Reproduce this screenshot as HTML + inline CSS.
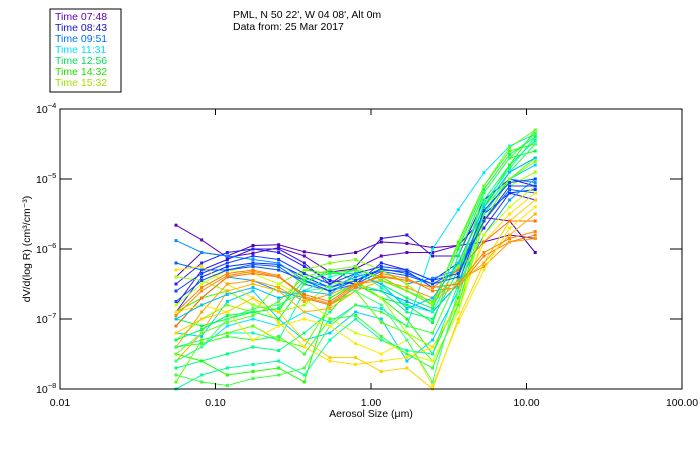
<!DOCTYPE html>
<html><head><meta charset="utf-8"><style>
body{margin:0;background:#fff;}
svg{display:block;font-family:"Liberation Sans",sans-serif;}
</style></head><body>
<svg id="chart" width="700" height="450">
<rect x="50" y="9" width="71" height="83" fill="#fff" stroke="#000"/>
<g font-size="10.5">
<text x="55" y="20" fill="#6000c0">Time 07:48</text>
<text x="55" y="31" fill="#1010e0">Time 08:43</text>
<text x="55" y="42" fill="#0070ff">Time 09:51</text>
<text x="55" y="53" fill="#00e0ff">Time 11:31</text>
<text x="55" y="64" fill="#00e060">Time 12:56</text>
<text x="55" y="75" fill="#20e000">Time 14:32</text>
<text x="55" y="86" fill="#a0e000">Time 15:32</text>
</g>
<text x="233" y="18" font-size="10.5">PML, N 50 22', W 04 08', Alt 0m</text>
<text x="233" y="30" font-size="10.5">Data from: 25 Mar 2017</text>
<g id="series"></g>
<rect x="60" y="109" width="622" height="280" fill="none" stroke="#000"/>
<g id="axes"></g>
<text x="371" y="417" font-size="10.5" text-anchor="middle">Aerosol Size (μm)</text>
<text transform="translate(30,249) rotate(-90)" font-size="10.5" text-anchor="middle">dV/d(log R) (cm³/cm⁻³)</text>
</svg>
<script>
const xTicks=[0.01,0.1,1,10,100];
const xTickLabels=["0.01","0.10","1.00","10.00","100.00"];
const yTickExp=[-4,-5,-6,-7,-8];
const sizeBinsLog=[-1.254,-1.089,-0.924,-0.759,-0.594,-0.429,-0.264,-0.099,0.066,0.231,0.396,0.561,0.726,0.891,1.056];
const seriesColors=["#6000c0","#5000b0","#3010e0","#2020ff","#0030ff","#0060ff","#0090ff","#00a0ff","#00e8ff","#00d0ff","#00ffc0","#00ff80","#00ff40","#20ff00","#40ff00","#60ff00","#80ff00","#a0ff00","#d0ff00","#ffe000","#ffd000","#ff8000","#ff7000","#ffa000","#ffb000","#30ff30","#00ffa0","#40ff40","#ffe800","#40ff80","#1040ff","#0050f0","#00ff60","#60ff20","#00c0ff","#ff8800"];
const s1=[-5.66,-5.87,-6.12,-6.06,-5.98,-6.1,-6.33,-6.28,-6.1,-6.05,-6.05,-5.95,-5.9,-5.8,-5.85];
const s2=[-6.4,-6.05,-6.1,-5.95,-5.94,-6.04,-6.1,-6.05,-5.9,-5.92,-5.98,-5.95,-5.55,-5.6,-6.05];
const s3=[-6.8,-6.3,-6.15,-6.0,-6.0,-6.2,-6.5,-6.25,-5.85,-5.8,-6.1,-6.1,-5.3,-5.0,-5.1];
const s4=[-6.5,-6.2,-6.05,-6.0,-6.05,-6.25,-6.45,-6.5,-6.2,-6.3,-6.45,-6.2,-5.7,-5.2,-5.3];
const s5=[-6.9,-6.4,-6.25,-6.2,-6.22,-6.4,-6.55,-6.45,-6.3,-6.32,-6.55,-6.5,-5.5,-5.2,-5.15];
const s6=[-6.2,-6.3,-6.3,-6.22,-6.25,-6.5,-6.6,-6.5,-6.32,-6.38,-6.5,-6.3,-5.6,-5.15,-5.2];
const s7=[-5.88,-6.05,-6.1,-6.15,-6.2,-6.45,-6.55,-6.4,-6.3,-6.5,-6.42,-6.3,-5.5,-5.0,-5.05];
const s8=[-7.1,-6.7,-6.4,-6.45,-6.6,-6.7,-6.8,-6.55,-6.6,-6.75,-6.9,-6.5,-5.8,-5.3,-5.0];
const s9=[-7.6,-7.4,-7.1,-7.0,-7.1,-6.9,-7.05,-6.8,-6.85,-7.1,-6.0,-5.44,-4.91,-4.53,-4.36];
const s10=[-7.2,-7.25,-6.75,-6.6,-7.0,-7.3,-7.2,-6.9,-7.0,-7.6,-7.3,-6.6,-5.5,-5.0,-4.8];
const s11=[-7.4,-7.3,-7.2,-7.2,-7.3,-6.6,-6.4,-6.3,-6.55,-6.8,-6.9,-6.2,-5.4,-4.9,-4.7];
const s12=[-7.7,-7.6,-7.5,-7.4,-7.45,-7.2,-6.9,-6.5,-6.6,-6.9,-7.0,-6.3,-5.3,-4.8,-4.45];
const s13=[-7.0,-7.1,-7.0,-6.9,-7.0,-6.5,-6.3,-6.45,-6.7,-6.8,-7.05,-6.1,-5.2,-4.7,-4.6];
const s14=[-7.5,-7.6,-7.8,-7.75,-7.7,-7.9,-6.7,-6.5,-6.7,-7.0,-7.5,-6.7,-5.4,-4.8,-4.3];
const s15=[-6.9,-6.7,-6.6,-6.8,-6.9,-6.3,-6.35,-6.3,-6.4,-6.6,-6.8,-5.9,-5.1,-4.6,-4.5];
const s16=[-7.9,-7.3,-7.2,-7.1,-7.3,-7.4,-6.8,-6.6,-7.05,-7.2,-7.6,-6.9,-5.6,-5.0,-4.7];
const s17=[-7.3,-7.0,-6.8,-6.9,-6.5,-6.3,-6.2,-6.15,-6.3,-6.5,-6.8,-6.25,-5.4,-5.0,-4.75];
const s18=[-6.4,-6.45,-6.6,-6.8,-6.9,-6.8,-6.5,-6.45,-6.7,-7.2,-7.4,-6.8,-5.6,-5.1,-4.9];
const s19=[-6.8,-6.5,-6.3,-6.35,-6.5,-6.7,-7.0,-7.2,-7.3,-7.5,-7.6,-6.9,-5.8,-5.4,-5.1];
const s20=[-6.3,-6.25,-6.5,-6.7,-7.05,-7.4,-7.6,-7.65,-7.6,-7.55,-7.4,-6.75,-5.9,-5.5,-5.2];
const s21=[-7.2,-7.0,-6.9,-6.7,-6.9,-7.3,-7.55,-7.55,-7.75,-7.7,-8.0,-7.0,-6.2,-5.6,-5.3];
const s22=[-6.9,-6.55,-6.35,-6.3,-6.38,-6.7,-6.8,-6.55,-6.35,-6.42,-6.6,-6.55,-6.1,-5.9,-5.8];
const s23=[-7.1,-6.7,-6.4,-6.35,-6.4,-6.65,-6.75,-6.5,-6.4,-6.45,-6.55,-6.3,-5.9,-5.6,-5.6];
const s24=[-7.4,-6.9,-6.5,-6.45,-6.55,-6.75,-6.65,-6.5,-6.45,-6.55,-6.7,-6.45,-6.25,-5.9,-5.85];
const s25=[-7.6,-7.2,-6.6,-6.5,-6.6,-6.9,-6.85,-6.6,-6.45,-6.6,-6.75,-6.5,-6.2,-5.8,-5.5];
const s26=[-7.4,-7.35,-7.25,-7.3,-7.25,-7.5,-7.0,-6.95,-7.25,-7.5,-7.7,-6.8,-5.5,-4.9,-4.5];
const s27=[-8.0,-7.8,-7.7,-7.65,-7.6,-7.8,-7.3,-7.0,-7.3,-7.45,-7.5,-6.5,-5.35,-4.85,-4.4];
const s28=[-7.8,-7.9,-7.95,-7.85,-7.8,-7.7,-7.1,-6.8,-6.9,-7.1,-7.2,-6.4,-5.2,-4.7,-4.35];
const s29=[-6.9,-6.8,-6.9,-7.3,-7.1,-7.0,-7.1,-7.35,-7.5,-7.3,-7.95,-7.05,-6.3,-5.7,-5.4];
const s30=[-7.6,-7.4,-7.0,-6.85,-6.8,-6.6,-6.55,-6.6,-6.8,-7.3,-7.9,-6.6,-5.5,-4.9,-4.5];
const s31=[-6.6,-6.35,-6.2,-6.1,-6.15,-6.35,-6.5,-6.35,-6.25,-6.3,-6.45,-6.35,-5.6,-5.1,-5.1];
const s32=[-6.75,-6.45,-6.3,-6.25,-6.3,-6.45,-6.6,-6.45,-6.28,-6.35,-6.5,-6.4,-5.45,-5.05,-5.0];
const s33=[-7.3,-7.15,-6.95,-6.9,-6.85,-6.45,-6.35,-6.35,-6.5,-6.7,-6.85,-6.0,-5.15,-4.65,-4.4];
const s34=[-7.5,-7.2,-7.05,-6.95,-6.75,-6.4,-6.3,-6.25,-6.45,-6.6,-6.75,-5.95,-5.1,-4.55,-4.3];
const s35=[-7.0,-6.8,-6.65,-6.55,-6.7,-6.6,-6.65,-6.35,-6.5,-6.85,-6.7,-6.2,-5.4,-4.9,-4.7];
const s36=[-6.95,-6.6,-6.38,-6.32,-6.4,-6.68,-6.78,-6.52,-6.38,-6.45,-6.55,-6.5,-6.05,-5.85,-5.75];
const allSeries=[s1,s2,s3,s4,s5,s6,s7,s8,s9,s10,s11,s12,s13,s14,s15,s16,s17,s18,s19,s20,s21,s22,s23,s24,s25,s26,s27,s28,s29,s30,s31,s32,s33,s34,s35,s36];

const NS="http://www.w3.org/2000/svg";
const L=60,R=682,T=109,B=389;
function xLog(lg){return L+(lg+2)/4*(R-L);}
function xScale(v){return xLog(Math.log10(v));}
function yScale(e){return T+(-4-e)/4*(B-T);}
function mk(tag,attrs,parent){const e=document.createElementNS(NS,tag);for(const k in attrs)e.setAttribute(k,attrs[k]);parent.appendChild(e);return e;}

const axes=document.getElementById('axes');
xTicks.forEach((v,i)=>{
  const x=xScale(v);
  if(i>0&&i<xTicks.length-1){
    const t1=mk('line',{x1:x,x2:x,y1:B,y2:B-6,stroke:'#000'},axes);
    
    
    const t2=mk('line',{x1:x,x2:x,y1:T,y2:T+6,stroke:'#000'},axes);
    
    
  }
  const lb=mk('text',{x:x,y:406,'font-size':'10.5','text-anchor':'middle'},axes);
  lb.textContent=xTickLabels[i];
  
  
});
yTickExp.forEach((e,i)=>{
  const y=yScale(e);
  if(i>0&&i<yTickExp.length-1){
    const t1=mk('line',{x1:L,x2:L+12,y1:y,y2:y,stroke:'#000'},axes);
    
    
    const t2=mk('line',{x1:R,x2:R-12,y1:y,y2:y,stroke:'#000'},axes);
    
    
  }
  const lb=mk('text',{x:36,y:y+4,'font-size':'10.5'},axes);
  lb.textContent='10';
  const sp=mk('tspan',{dy:'-5','font-size':'7.5'},lb);
  sp.textContent=String(e).replace('-','−');
  
  
});

const sg=document.getElementById('series');
allSeries.forEach((s,si)=>{
  const col=seriesColors[si];
  const g=mk('g',{},sg);
  
  
  const pts=s.map((v,i)=>xLog(sizeBinsLog[i]).toFixed(1)+','+yScale(v).toFixed(1)).join(' ');
  const pl=mk('polyline',{points:pts,fill:'none',stroke:col,'stroke-width':'1'},g);
  
  
  s.forEach((v,i)=>{
    const m=mk('rect',{x:xLog(sizeBinsLog[i])-1.5,y:yScale(v)-1.5,width:3,height:3,fill:col},g);
    
    
  });
});
</script>
</body></html>
